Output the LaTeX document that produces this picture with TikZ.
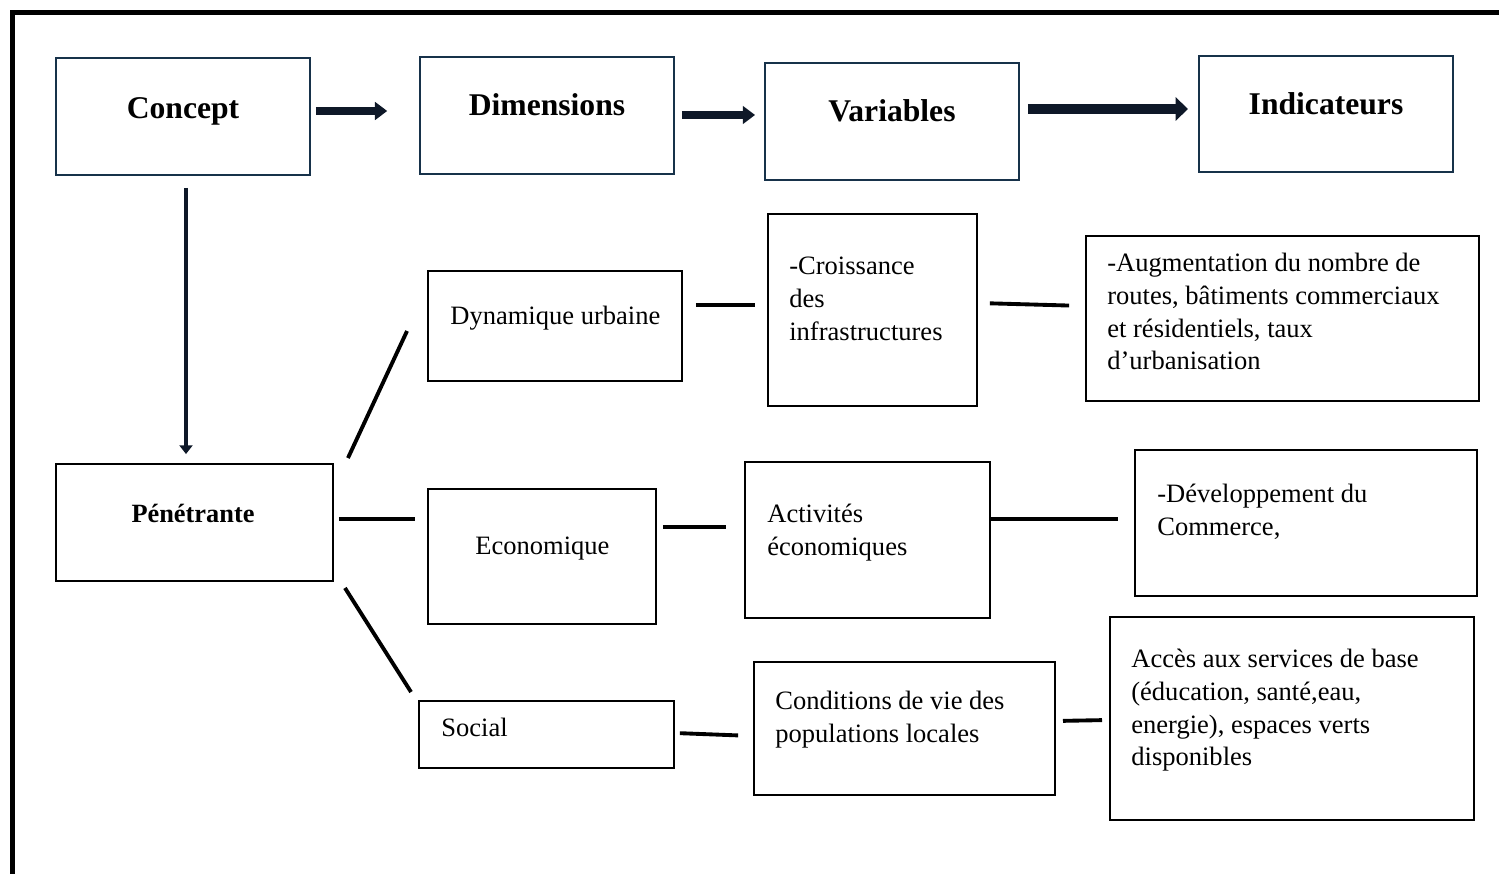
\documentclass[tikz,border=0pt]{standalone}
\usepackage{fontspec}
\setmainfont{Liberation Serif}
\usetikzlibrary{arrows.meta,fit,calc}
\definecolor{navyline}{RGB}{23,50,74}
\definecolor{arrowfill}{RGB}{14,24,40}

\begin{document}
\begin{tikzpicture}[x=0.02cm,y=-0.02cm,
  box/.style={draw=black,line width=1.1pt,inner sep=0pt},
  topbox/.style={box,draw=navyline},
  head/.style={font=\fontsize{18}{22}\selectfont\bfseries,anchor=base},
  txt/.style={font=\fontsize{15.1}{18.7}\selectfont,align=left,anchor=north west,inner sep=0pt},
  link/.style={line width=2.2pt,black},
  blockarrow/.style={arrowfill,line width=4pt,-{Triangle[width=10pt,length=7pt]}}]
 \useasboundingbox (0,0) rectangle (1499,874);
 \draw[line width=2.3pt] (12.5,874) -- (12.5,12.5) -- (1499,12.5);

 \node[topbox,fit={(56,58) (310,175)}] (concept) {};
 \node[topbox,fit={(420,57) (674,174)}] (dims) {};
 \node[topbox,fit={(765,63) (1019,180)}] (vars) {};
 \node[topbox,fit={(1199,56) (1453,172)}] (ind) {};
 \node[head] (concept-t) at (183,119) {Concept};
 \node[head] (dims-t) at (547,116) {Dimensions};
 \node[head] (vars-t) at (892,122) {Variables};
 \node[head] (ind-t) at (1326,115) {Indicateurs};

 \node[box,fit={(56,464) (333,581)}] (pen) {};
 \node[head,font=\fontsize{15}{18}\selectfont\bfseries] (pen-t) at (193,523) {Pénétrante};

 \node[box,fit={(428,271) (682,381)}] (dyn) {};
 \node[box,fit={(768,214) (977,406)}] (cro) {};
 \node[box,fit={(1086,236) (1479,401)}] (aug) {};
 \node[box,fit={(428,489) (656,624)}] (eco) {};
 \node[box,fit={(745,462) (990,618)}] (act) {};
 \node[box,fit={(1135,450) (1477,596)}] (dev) {};
 \node[box,fit={(419,701) (674,768)}] (soc) {};
 \node[box,fit={(754,662) (1055,795)}] (con) {};
 \node[box,fit={(1110,617) (1474,820)}] (acc) {};

 \node[txt,anchor=base west] (dyn-t) at (450,325) {Dynamique urbaine};
 \node[txt] (cro-t) at (789,251) {\strut -Croissance\\\strut des\\\strut infrastructures};
 \node[txt] (aug-t) at (1107,248) {\strut -Augmentation du nombre de\\\strut routes, bâtiments commerciaux\\\strut et résidentiels, taux\\\strut d’urbanisation};
 \node[txt,anchor=base west] (eco-t) at (475,555) {Economique};
 \node[txt] (act-t) at (767,499) {\strut Activités\\\strut économiques};
 \node[txt] (dev-t) at (1157,479) {\strut -Développement du\\\strut Commerce,};
 \node[txt,anchor=base west] (soc-t) at (441,737) {Social};
 \node[txt] (con-t) at (775,686) {\strut Conditions de vie des\\\strut populations locales};
 \node[txt] (acc-t) at (1131,644) {\strut Accès aux services de base\\\strut (éducation, santé,eau,\\\strut energie), espaces verts\\\strut disponibles};

 \draw[blockarrow,shorten <=2.8pt,shorten >=18.1pt] (concept.east |- 0,111) -- (dims.west |- 0,111);
 \draw[blockarrow,shorten <=4pt,shorten >=5.1pt] (dims.east |- 0,115) -- (vars.west |- 0,115);
 \draw[blockarrow,line width=6.2pt,-{Triangle[width=13pt,length=7pt]},shorten <=4.5pt,shorten >=5.7pt] (vars.east |- 0,109) -- (ind.west |- 0,109);
 \draw[blockarrow,line width=2.8pt,-{Triangle[width=7.4pt,length=5pt]},shorten <=6.8pt,shorten >=5.1pt] (concept.south -| 186,0) -- (pen.north -| 186,0);

 \draw[link] ($(pen.north east)+(14,-5)$) -- ($(dyn.west)+(-20,5)$);
 \draw[link,shorten <=2.8pt,shorten >=6.8pt] (pen.east |- 0,519) -- (eco.west |- 0,519);
 \draw[link] ($(pen.south east)+(11,6)$) -- ($(soc.north west)+(-7,-8)$);
 \draw[link,shorten <=7.4pt,shorten >=6.8pt] (dyn.east |- 0,305) -- (cro.west |- 0,305);
 \draw[link,shorten <=6.8pt,shorten >=9.1pt] (cro.east |- 0,303) -- (aug.west |- 0,306);
 \draw[link,shorten <=3.4pt,shorten >=10.2pt] (eco.east |- 0,527) -- (act.west |- 0,527);
 \draw[link,shorten >=9.1pt] (act.east |- 0,519) -- (dev.west |- 0,519);
 \draw[link,shorten <=2.8pt,shorten >=8.5pt] (soc.east |- 0,733) -- (con.west |- 0,736);
 \draw[link,shorten <=4pt,shorten >=4pt] (con.east |- 0,721) -- (acc.west |- 0,720);
\end{tikzpicture}
\end{document}
